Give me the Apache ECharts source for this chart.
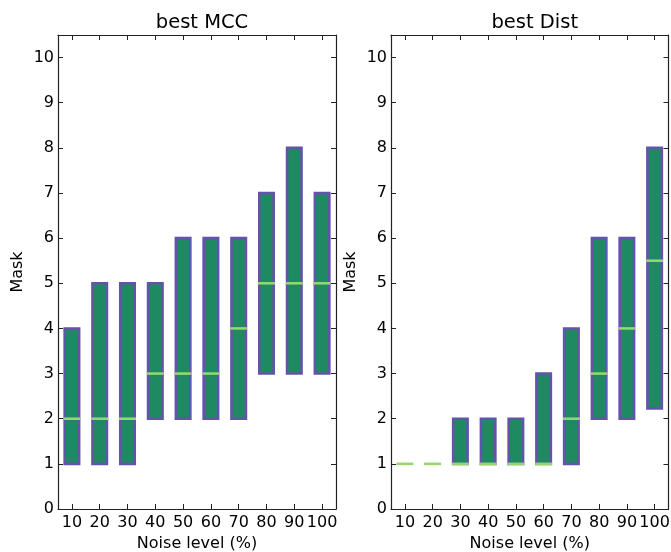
<!DOCTYPE html>
<html>
<head>
<meta charset="utf-8">
<script src="https://cdn.jsdelivr.net/npm/echarts@6/dist/echarts.min.js"></script>
<style>
html,body{margin:0;padding:0;background:#fff;}
#chart{width:671px;height:552px;}
</style>
</head>
<body>
<div id="chart"></div>
<script>
const categories = ['10','20','30','40','50','60','70','80','90','100'];
const mccLow    = [1, 1, 1, 2, 2, 2, 2, 3, 3, 3];
const mccHigh   = [4, 5, 5, 5, 6, 6, 6, 7, 8, 7];
const mccMedian = [2, 2, 2, 3, 3, 3, 4, 5, 5, 5];
const distLow    = [1, 1, 1, 1, 1, 1, 1, 2, 2, 2.23];
const distHigh   = [1, 1, 2, 2, 2, 3, 4, 6, 6, 8];
const distMedian = [1, 1, 1, 1, 1, 1, 2, 3, 4, 5.5];
const titles = ['best MCC', 'best Dist'];

const FONT = 'DejaVu Sans';
const FILL = '#1f8a61';
const BORDER = '#6452ad';
const MED = '#93d672';

function build(low, high, med) {
  return categories.map((c, i) => [i, low[i], high[i], med[i]]);
}

function renderItem(params, api) {
  const i = api.value(0);
  const lo = api.value(1), hi = api.value(2), md = api.value(3);
  const band = api.size([1, 0])[0];
  const w = band * 0.52;
  const pLo = api.coord([i, lo]);
  const pHi = api.coord([i, hi]);
  const pMd = api.coord([i, md]);
  const children = [];
  if (hi > lo) {
    children.push({
      type: 'rect',
      shape: { x: pLo[0] - w / 2, y: pHi[1], width: w, height: pLo[1] - pHi[1] },
      style: { fill: FILL, stroke: BORDER, lineWidth: 2.6 }
    });
  }
  children.push({
    type: 'line',
    shape: { x1: pMd[0] - w / 2 - 1.3, y1: pMd[1], x2: pMd[0] + w / 2 + 1.3, y2: pMd[1] },
    style: { stroke: MED, lineWidth: 2.6 }
  });
  return { type: 'group', children: children };
}

const grids = [
  { left: 58, top: 35, width: 278, height: 474, outerBoundsMode: 'none', containLabel: false },
  { left: 391, top: 35, width: 277.5, height: 474, outerBoundsMode: 'none', containLabel: false }
];

const xAxes = [], yAxes = [], series = [], titleList = [];
const datas = [build(mccLow, mccHigh, mccMedian), build(distLow, distHigh, distMedian)];

grids.forEach((g, k) => {
  titleList.push({
    text: titles[k],
    left: g.left + g.width / 2,
    textAlign: 'center',
    top: 8,
    textStyle: { fontFamily: FONT, fontSize: 19.5, fontWeight: 'normal', color: '#000' }
  });
  const axisLine = { show: true, onZero: false, lineStyle: { color: '#222', width: 1.2 } };
  const tick = { show: true, inside: true, length: 5, alignWithLabel: true, lineStyle: { color: '#222' } };
  xAxes.push({
    type: 'category', gridIndex: k, data: categories, position: 'bottom', boundaryGap: true,
    axisLine: axisLine, axisTick: tick,
    axisLabel: { fontFamily: FONT, fontSize: 16, color: '#000', margin: 6, interval: 0 },
    splitLine: { show: false },
    name: 'Noise level (%)', nameLocation: 'middle', nameGap: 25,
    nameTextStyle: { fontFamily: FONT, fontSize: 16, color: '#000' }
  });
  xAxes.push({
    type: 'category', gridIndex: k, data: categories, position: 'top', boundaryGap: true,
    axisLine: axisLine, axisTick: tick, axisLabel: { show: false }, splitLine: { show: false }
  });
  const yFmt = v => (Number.isInteger(v) ? String(v) : '');
  yAxes.push({
    type: 'value', gridIndex: k, min: 0, max: 10.5, interval: 1, position: 'left',
    axisLine: axisLine, axisTick: { show: true, inside: true, length: 5, lineStyle: { color: '#222' } },
    axisLabel: { fontFamily: FONT, fontSize: 16, color: '#000', margin: 4, formatter: yFmt },
    splitLine: { show: false },
    name: 'Mask', nameLocation: 'middle', nameGap: 32, nameRotate: 90,
    nameTextStyle: { fontFamily: FONT, fontSize: 16, color: '#000' }
  });
  yAxes.push({
    type: 'value', gridIndex: k, min: 0, max: 10.5, interval: 1, position: 'right',
    axisLine: axisLine, axisTick: { show: true, inside: true, length: 5, lineStyle: { color: '#222' } },
    axisLabel: { show: false }, splitLine: { show: false }
  });
  series.push({
    type: 'custom', xAxisIndex: k * 2, yAxisIndex: k * 2,
    renderItem: renderItem, data: datas[k], clip: false,
    encode: { x: 0, y: [1, 2, 3] }
  });
});

const chart = echarts.init(document.getElementById('chart'), null, { renderer: 'canvas' });
chart.setOption({
  animation: false,
  backgroundColor: '#fff',
  title: titleList,
  grid: grids,
  xAxis: xAxes,
  yAxis: yAxes,
  series: series
});
</script>
</body>
</html>
